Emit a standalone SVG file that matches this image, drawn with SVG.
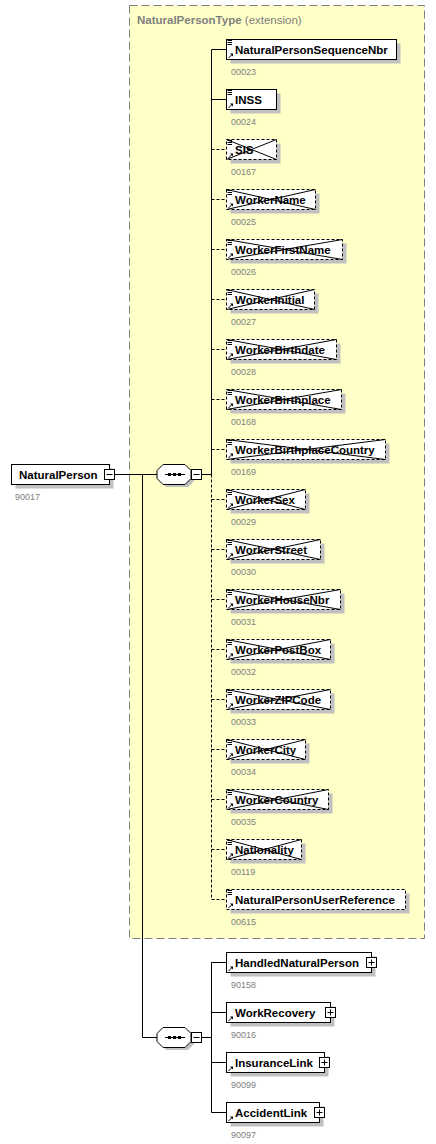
<svg xmlns="http://www.w3.org/2000/svg" xmlns:xlink="http://www.w3.org/1999/xlink" width="436" height="1144" viewBox="0 0 436 1144">
<style>
.bg{fill:#FFFFFF}
.ext{fill:#FFFFC8;stroke:#808080;stroke-width:1;stroke-dasharray:8,4}
.hdr{font-family:"Liberation Sans",Arial,sans-serif;font-size:11.5px;fill:#808080}
.sh{fill:#C0C0C0}
.box{fill:#FFFFFF;stroke:#000000;stroke-width:1}
.opt{fill:#FFFFFF;stroke:#000000;stroke-width:1;stroke-dasharray:3,2}
.x{stroke:#000000;stroke-width:1;fill:none}
.lbl{font-family:"Liberation Sans",Arial,sans-serif;font-size:11.5px;font-weight:bold;fill:#000000}
.num{font-family:"Liberation Sans",Arial,sans-serif;font-size:9px;fill:#808080}
.ln{stroke:#000000;stroke-width:1;fill:none}
.dl{stroke:#000000;stroke-width:1;fill:none;stroke-dasharray:3,2}
.pm{fill:#FFFFFF;stroke:#000000;stroke-width:1}
</style>
<defs>
<g id="doc">
<path d="M1,1H5.5M1,3H5.5M1,5H5.5" stroke="#000" stroke-width="1" fill="none"/>
</g>
<g id="ref">
<path d="M2,18.5L5.5,15" stroke="#000" stroke-width="1" fill="none"/>
<path d="M3.5,14L6.5,14L6.5,17Z" fill="#000"/>
</g>
</defs>
<rect class="bg" x="0" y="0" width="436" height="1144"/>
<g id="extension">
<rect class="ext" x="129.5" y="5.5" width="295" height="933"/>
<text class="hdr" x="137" y="24"><tspan font-weight="bold">NaturalPersonType</tspan> (extension)</text>
</g>
<g id="connectors">
<path class="ln" d="M114.5,474.5H157"/>
<path class="ln" d="M142.5,474.5V1037.5H157"/>
<path class="ln" d="M201.5,474.5H211.5"/>
<path class="ln" d="M211.5,49.5V474.5"/>
<path class="dl" d="M211.5,474.5V899.5"/>
<path class="ln" d="M211.5,49.5H226.5M211.5,99.5H226.5"/>
<path class="dl" d="M211.5,149.5H226.5M211.5,199.5H226.5M211.5,249.5H226.5M211.5,299.5H226.5M211.5,349.5H226.5M211.5,399.5H226.5M211.5,449.5H226.5M211.5,499.5H226.5M211.5,549.5H226.5M211.5,599.5H226.5M211.5,649.5H226.5M211.5,699.5H226.5M211.5,749.5H226.5M211.5,799.5H226.5M211.5,849.5H226.5M211.5,899.5H226.5"/>
<path class="ln" d="M201.5,1037.5H211.5M211.5,962.5V1112.5M211.5,962.5H226.5M211.5,1012.5H226.5M211.5,1062.5H226.5M211.5,1112.5H226.5"/>
</g>
<g id="NaturalPerson">
<rect class="sh" x="15.5" y="468.5" width="98" height="20"/>
<rect class="box" x="11.5" y="464.5" width="98" height="20"/>
<text class="lbl" x="19" y="479">NaturalPerson</text>
<rect class="pm" x="104.5" y="469.5" width="10" height="10"/>
<path class="ln" d="M106.5,474.5H112.5"/>
<text class="num" x="15" y="500">90017</text>
</g>
<g id="seq1">
<polygon class="sh" points="166,467 188,467 194,473 194,481 188,487 166,487 160,481 160,473"/>
<polygon class="box" points="163,464.5 185,464.5 191,470.5 191,478.5 185,484.5 163,484.5 157,478.5 157,470.5"/>
<path class="ln" d="M165,474.5H185"/>
<rect x="168" y="473" width="3" height="3" fill="#000"/>
<rect x="173" y="473" width="3" height="3" fill="#000"/>
<rect x="178" y="473" width="3" height="3" fill="#000"/>
<rect class="pm" x="191.5" y="469.5" width="10" height="10"/>
<path class="ln" d="M193.5,474.5H199.5"/>
</g>
<g id="seq2">
<polygon class="sh" points="166,1030 188,1030 194,1036 194,1044 188,1050 166,1050 160,1044 160,1036"/>
<polygon class="box" points="163,1027.5 185,1027.5 191,1033.5 191,1041.5 185,1047.5 163,1047.5 157,1041.5 157,1033.5"/>
<path class="ln" d="M165,1037.5H185"/>
<rect x="168" y="1036" width="3" height="3" fill="#000"/>
<rect x="173" y="1036" width="3" height="3" fill="#000"/>
<rect x="178" y="1036" width="3" height="3" fill="#000"/>
<rect class="pm" x="191.5" y="1032.5" width="10" height="10"/>
<path class="ln" d="M193.5,1037.5H199.5"/>
</g>
<g id="NaturalPersonSequenceNbr">
<rect class="sh" x="230.5" y="43.5" width="170" height="20"/>
<rect class="box" x="226.5" y="39.5" width="170" height="20"/>
<use xlink:href="#doc" x="226.5" y="39.5"/><use xlink:href="#ref" x="226.5" y="39.5"/>
<text class="lbl" x="235" y="54">NaturalPersonSequenceNbr</text>
<text class="num" x="231" y="75">00023</text>
</g>
<g id="INSS">
<rect class="sh" x="230.5" y="93.5" width="50" height="20"/>
<rect class="box" x="226.5" y="89.5" width="50" height="20"/>
<use xlink:href="#doc" x="226.5" y="89.5"/><use xlink:href="#ref" x="226.5" y="89.5"/>
<text class="lbl" x="235" y="104">INSS</text>
<text class="num" x="231" y="125">00024</text>
</g>
<g id="SIS">
<rect class="sh" x="230.5" y="143.5" width="50" height="20"/>
<rect class="opt" x="226.5" y="139.5" width="50" height="20"/>
<path class="x" d="M226.5,139.5L276.5,159.5M226.5,159.5L276.5,139.5"/>
<use xlink:href="#doc" x="226.5" y="139.5"/><use xlink:href="#ref" x="226.5" y="139.5"/>
<text class="lbl" x="235" y="154">SIS</text>
<text class="num" x="231" y="175">00167</text>
</g>
<g id="WorkerName">
<rect class="sh" x="230.5" y="193.5" width="89" height="20"/>
<rect class="opt" x="226.5" y="189.5" width="89" height="20"/>
<path class="x" d="M226.5,189.5L315.5,209.5M226.5,209.5L315.5,189.5"/>
<use xlink:href="#doc" x="226.5" y="189.5"/><use xlink:href="#ref" x="226.5" y="189.5"/>
<text class="lbl" x="235" y="204">WorkerName</text>
<text class="num" x="231" y="225">00025</text>
</g>
<g id="WorkerFirstName">
<rect class="sh" x="230.5" y="243.5" width="116" height="20"/>
<rect class="opt" x="226.5" y="239.5" width="116" height="20"/>
<path class="x" d="M226.5,239.5L342.5,259.5M226.5,259.5L342.5,239.5"/>
<use xlink:href="#doc" x="226.5" y="239.5"/><use xlink:href="#ref" x="226.5" y="239.5"/>
<text class="lbl" x="235" y="254">WorkerFirstName</text>
<text class="num" x="231" y="275">00026</text>
</g>
<g id="WorkerInitial">
<rect class="sh" x="230.5" y="293.5" width="88" height="20"/>
<rect class="opt" x="226.5" y="289.5" width="88" height="20"/>
<path class="x" d="M226.5,289.5L314.5,309.5M226.5,309.5L314.5,289.5"/>
<use xlink:href="#doc" x="226.5" y="289.5"/><use xlink:href="#ref" x="226.5" y="289.5"/>
<text class="lbl" x="235" y="304">WorkerInitial</text>
<text class="num" x="231" y="325">00027</text>
</g>
<g id="WorkerBirthdate">
<rect class="sh" x="230.5" y="343.5" width="110" height="20"/>
<rect class="opt" x="226.5" y="339.5" width="110" height="20"/>
<path class="x" d="M226.5,339.5L336.5,359.5M226.5,359.5L336.5,339.5"/>
<use xlink:href="#doc" x="226.5" y="339.5"/><use xlink:href="#ref" x="226.5" y="339.5"/>
<text class="lbl" x="235" y="354">WorkerBirthdate</text>
<text class="num" x="231" y="375">00028</text>
</g>
<g id="WorkerBirthplace">
<rect class="sh" x="230.5" y="393.5" width="115" height="20"/>
<rect class="opt" x="226.5" y="389.5" width="115" height="20"/>
<path class="x" d="M226.5,389.5L341.5,409.5M226.5,409.5L341.5,389.5"/>
<use xlink:href="#doc" x="226.5" y="389.5"/><use xlink:href="#ref" x="226.5" y="389.5"/>
<text class="lbl" x="235" y="404">WorkerBirthplace</text>
<text class="num" x="231" y="425">00168</text>
</g>
<g id="WorkerBirthplaceCountry">
<rect class="sh" x="230.5" y="443.5" width="159" height="20"/>
<rect class="opt" x="226.5" y="439.5" width="159" height="20"/>
<path class="x" d="M226.5,439.5L385.5,459.5M226.5,459.5L385.5,439.5"/>
<use xlink:href="#doc" x="226.5" y="439.5"/><use xlink:href="#ref" x="226.5" y="439.5"/>
<text class="lbl" x="235" y="454">WorkerBirthplaceCountry</text>
<text class="num" x="231" y="475">00169</text>
</g>
<g id="WorkerSex">
<rect class="sh" x="230.5" y="493.5" width="79" height="20"/>
<rect class="opt" x="226.5" y="489.5" width="79" height="20"/>
<path class="x" d="M226.5,489.5L305.5,509.5M226.5,509.5L305.5,489.5"/>
<use xlink:href="#doc" x="226.5" y="489.5"/><use xlink:href="#ref" x="226.5" y="489.5"/>
<text class="lbl" x="235" y="504">WorkerSex</text>
<text class="num" x="231" y="525">00029</text>
</g>
<g id="WorkerStreet">
<rect class="sh" x="230.5" y="543.5" width="94" height="20"/>
<rect class="opt" x="226.5" y="539.5" width="94" height="20"/>
<path class="x" d="M226.5,539.5L320.5,559.5M226.5,559.5L320.5,539.5"/>
<use xlink:href="#doc" x="226.5" y="539.5"/><use xlink:href="#ref" x="226.5" y="539.5"/>
<text class="lbl" x="235" y="554">WorkerStreet</text>
<text class="num" x="231" y="575">00030</text>
</g>
<g id="WorkerHouseNbr">
<rect class="sh" x="230.5" y="593.5" width="114" height="20"/>
<rect class="opt" x="226.5" y="589.5" width="114" height="20"/>
<path class="x" d="M226.5,589.5L340.5,609.5M226.5,609.5L340.5,589.5"/>
<use xlink:href="#doc" x="226.5" y="589.5"/><use xlink:href="#ref" x="226.5" y="589.5"/>
<text class="lbl" x="235" y="604">WorkerHouseNbr</text>
<text class="num" x="231" y="625">00031</text>
</g>
<g id="WorkerPostBox">
<rect class="sh" x="230.5" y="643.5" width="104" height="20"/>
<rect class="opt" x="226.5" y="639.5" width="104" height="20"/>
<path class="x" d="M226.5,639.5L330.5,659.5M226.5,659.5L330.5,639.5"/>
<use xlink:href="#doc" x="226.5" y="639.5"/><use xlink:href="#ref" x="226.5" y="639.5"/>
<text class="lbl" x="235" y="654">WorkerPostBox</text>
<text class="num" x="231" y="675">00032</text>
</g>
<g id="WorkerZIPCode">
<rect class="sh" x="230.5" y="693.5" width="104" height="20"/>
<rect class="opt" x="226.5" y="689.5" width="104" height="20"/>
<path class="x" d="M226.5,689.5L330.5,709.5M226.5,709.5L330.5,689.5"/>
<use xlink:href="#doc" x="226.5" y="689.5"/><use xlink:href="#ref" x="226.5" y="689.5"/>
<text class="lbl" x="235" y="704">WorkerZIPCode</text>
<text class="num" x="231" y="725">00033</text>
</g>
<g id="WorkerCity">
<rect class="sh" x="230.5" y="743.5" width="79" height="20"/>
<rect class="opt" x="226.5" y="739.5" width="79" height="20"/>
<path class="x" d="M226.5,739.5L305.5,759.5M226.5,759.5L305.5,739.5"/>
<use xlink:href="#doc" x="226.5" y="739.5"/><use xlink:href="#ref" x="226.5" y="739.5"/>
<text class="lbl" x="235" y="754">WorkerCity</text>
<text class="num" x="231" y="775">00034</text>
</g>
<g id="WorkerCountry">
<rect class="sh" x="230.5" y="793.5" width="102" height="20"/>
<rect class="opt" x="226.5" y="789.5" width="102" height="20"/>
<path class="x" d="M226.5,789.5L328.5,809.5M226.5,809.5L328.5,789.5"/>
<use xlink:href="#doc" x="226.5" y="789.5"/><use xlink:href="#ref" x="226.5" y="789.5"/>
<text class="lbl" x="235" y="804">WorkerCountry</text>
<text class="num" x="231" y="825">00035</text>
</g>
<g id="Nationality">
<rect class="sh" x="230.5" y="843.5" width="75" height="20"/>
<rect class="opt" x="226.5" y="839.5" width="75" height="20"/>
<path class="x" d="M226.5,839.5L301.5,859.5M226.5,859.5L301.5,839.5"/>
<use xlink:href="#doc" x="226.5" y="839.5"/><use xlink:href="#ref" x="226.5" y="839.5"/>
<text class="lbl" x="235" y="854">Nationality</text>
<text class="num" x="231" y="875">00119</text>
</g>
<g id="NaturalPersonUserReference">
<rect class="sh" x="230.5" y="893.5" width="179" height="20"/>
<rect class="opt" x="226.5" y="889.5" width="179" height="20"/>
<use xlink:href="#doc" x="226.5" y="889.5"/><use xlink:href="#ref" x="226.5" y="889.5"/>
<text class="lbl" x="235" y="904">NaturalPersonUserReference</text>
<text class="num" x="231" y="925">00615</text>
</g>
<g id="HandledNaturalPerson">
<rect class="sh" x="230.5" y="956.5" width="145" height="20"/>
<rect class="box" x="226.5" y="952.5" width="145" height="20"/>
<use xlink:href="#ref" x="226.5" y="952.5"/>
<text class="lbl" x="235" y="967">HandledNaturalPerson</text>
<rect class="pm" x="366.5" y="957.5" width="10" height="10"/>
<path class="ln" d="M368.5,962.5H374.5M371.5,959.5V965.5"/>
<text class="num" x="231" y="988">90158</text>
</g>
<g id="WorkRecovery">
<rect class="sh" x="230.5" y="1006.5" width="104" height="20"/>
<rect class="box" x="226.5" y="1002.5" width="104" height="20"/>
<use xlink:href="#ref" x="226.5" y="1002.5"/>
<text class="lbl" x="235" y="1017">WorkRecovery</text>
<rect class="pm" x="325.5" y="1007.5" width="10" height="10"/>
<path class="ln" d="M327.5,1012.5H333.5M330.5,1009.5V1015.5"/>
<text class="num" x="231" y="1038">90016</text>
</g>
<g id="InsuranceLink">
<rect class="sh" x="230.5" y="1056.5" width="98" height="20"/>
<rect class="box" x="226.5" y="1052.5" width="98" height="20"/>
<use xlink:href="#ref" x="226.5" y="1052.5"/>
<text class="lbl" x="235" y="1067">InsuranceLink</text>
<rect class="pm" x="319.5" y="1057.5" width="10" height="10"/>
<path class="ln" d="M321.5,1062.5H327.5M324.5,1059.5V1065.5"/>
<text class="num" x="231" y="1088">90099</text>
</g>
<g id="AccidentLink">
<rect class="sh" x="230.5" y="1106.5" width="93" height="20"/>
<rect class="box" x="226.5" y="1102.5" width="93" height="20"/>
<use xlink:href="#ref" x="226.5" y="1102.5"/>
<text class="lbl" x="235" y="1117">AccidentLink</text>
<rect class="pm" x="314.5" y="1107.5" width="10" height="10"/>
<path class="ln" d="M316.5,1112.5H322.5M319.5,1109.5V1115.5"/>
<text class="num" x="231" y="1138">90097</text>
</g>
</svg>
